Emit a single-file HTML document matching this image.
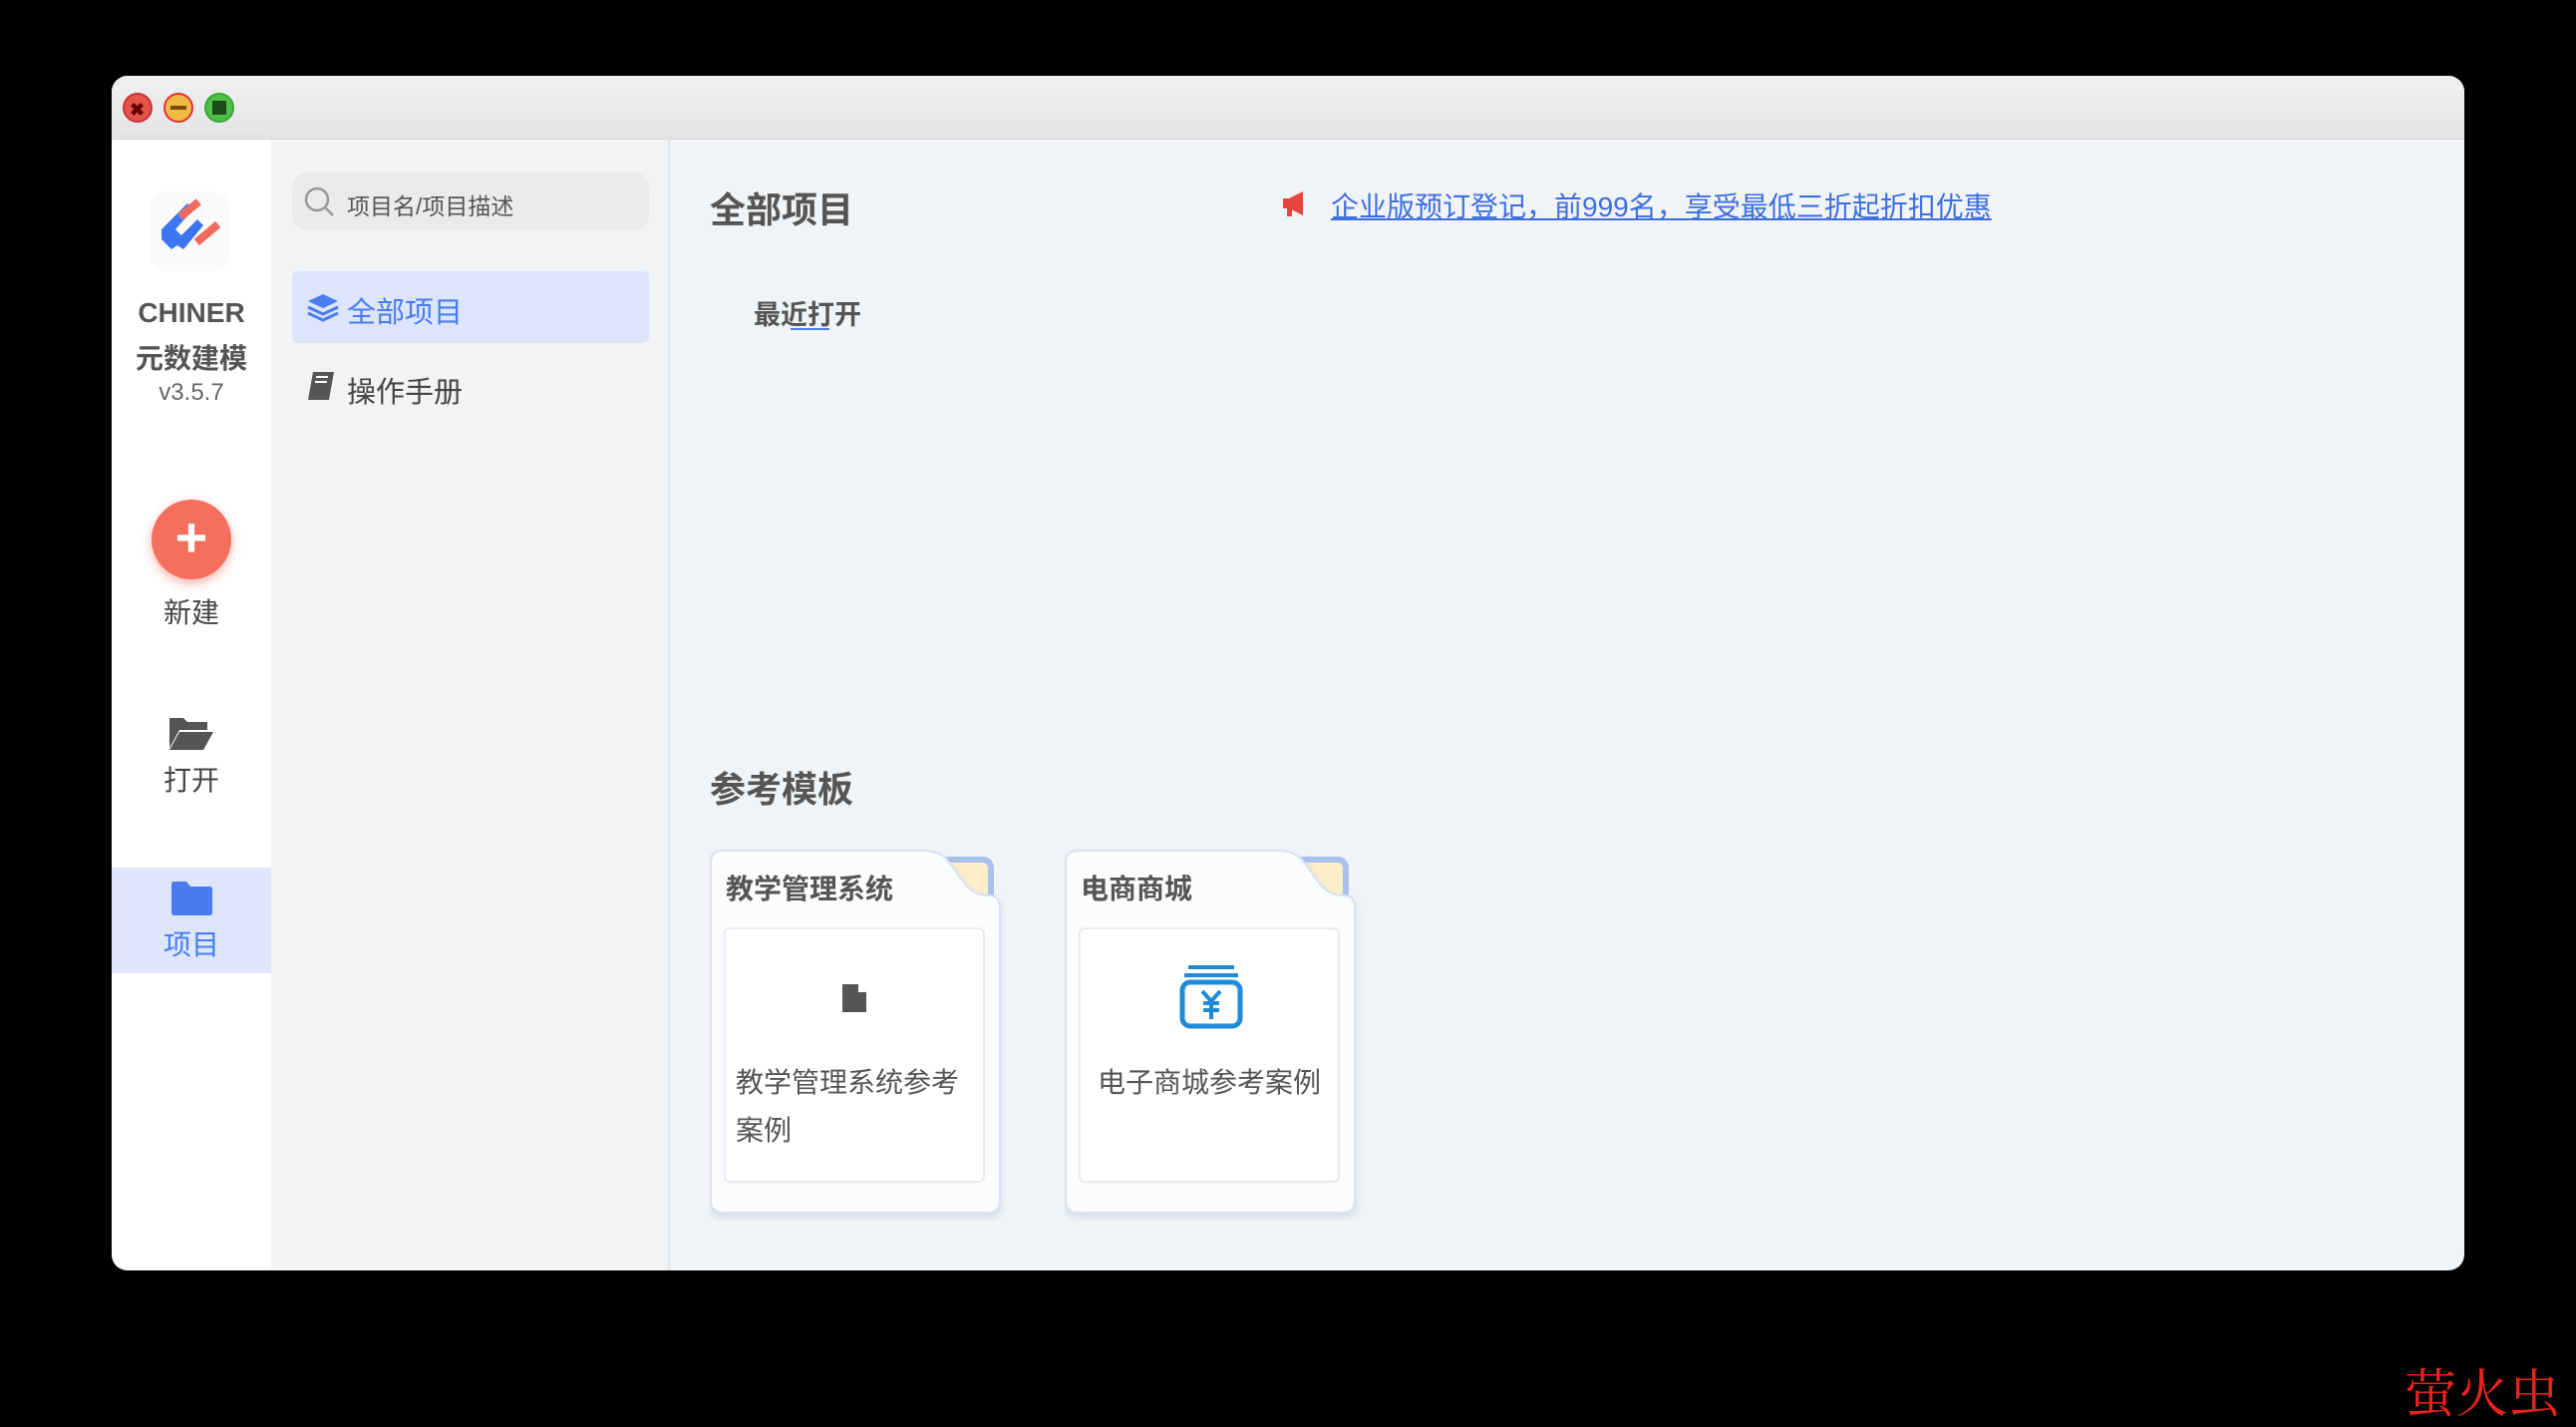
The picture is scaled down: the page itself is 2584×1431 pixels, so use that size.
<!DOCTYPE html>
<html><head><meta charset="utf-8"><style>
*{margin:0;padding:0;box-sizing:border-box}
body{width:2584px;height:1424px;background:#000;position:relative;overflow:hidden;font-family:"Liberation Sans","Noto Sans CJK SC",sans-serif;color:#555}
.a{position:absolute}
.win{left:112px;top:76px;width:2360px;height:1198px;background:#f1f4f6;border-radius:16px;overflow:hidden}
.tb{left:0;top:0;width:2360px;height:64px;background:linear-gradient(#f0f0f2,#e4e4e6);border-bottom:1px solid #d8d8d8}
.dot{top:17px;width:30px;height:30px;border-radius:50%}
.nav{left:0;top:64px;width:160px;height:1134px;background:#fff;box-shadow:4px 0 10px rgba(0,0,0,.04)}
.side{left:160px;top:64px;width:400px;height:1134px;background:#f1f3f5;border-right:2px solid #e2e5e8}
.ctr{text-align:center;width:160px;left:0}
.inner{left:14px;top:78px;width:262px;height:256px;background:#fff;border:2px solid #e8ecf2;border-radius:6px}
</style></head><body>
<div class="a win">
 <div class="a tb"></div>
 <div class="a dot" style="left:11px;background:#e5534b;border:2px solid #c33"></div>
 <div class="a dot" style="left:52px;background:#f0b944;border:2px solid #d33"></div>
 <div class="a dot" style="left:93px;background:#4fbf48;border:2px solid #3a3"></div>
 <div class="a" style="left:18px;top:24px;font:bold 18px sans-serif;color:#600">✖</div>
 <div class="a" style="left:59px;top:30px;width:16px;height:4px;background:#7a4a00"></div>
 <div class="a" style="left:101px;top:25px;width:14px;height:14px;background:#1a4d1a"></div>
 <div class="a nav">
  <svg class="a" style="left:36px;top:50px" width="84" height="84" viewBox="0 0 84 84">
   <rect x="2" y="2" width="80" height="80" rx="16" fill="#fafafa"/>
   <path d="M14 40 L40 14 L46 20 L28 40 L34 46 L50 30 L56 36 L36 60 L30 56 L24 60 L14 50Z" fill="#3b76f0"/>
   <rect x="30" y="16" width="24" height="8" fill="#ee6b5e" transform="rotate(-40 42 20)"/>
   <rect x="46" y="40" width="28" height="8" fill="#ee6b5e" transform="rotate(-40 60 44)"/>
  </svg>
  <div class="a ctr" style="top:158px;font-size:28px;font-weight:bold;color:#555">CHINER</div>
  <div class="a ctr" style="top:198px;font-size:28px;font-weight:bold;color:#555">元数建模</div>
  <div class="a ctr" style="top:240px;font-size:24px;color:#666">v3.5.7</div>
  <div class="a" style="left:40px;top:361px;width:80px;height:80px;border-radius:50%;background:#f4705e;box-shadow:0 4px 10px rgba(240,110,90,.5);color:#fff;text-align:center;font:bold 56px/76px 'Liberation Sans'">+</div>
  <div class="a ctr" style="top:453px;font-size:28px;color:#444">新建</div>
  <svg class="a" style="left:56px;top:576px" width="48" height="38" viewBox="0 0 48 38"><path d="M2 4h14l4 4h20v8H12L2 34Z" fill="#555"/><path d="M12 18h34l-10 18H2Z" fill="#555"/></svg>
  <div class="a ctr" style="top:621px;font-size:28px;color:#444">打开</div>
  <div class="a" style="left:0;top:730px;width:160px;height:106px;background:#dde6fb"></div>
  <svg class="a" style="left:58px;top:743px" width="44" height="36" viewBox="0 0 44 36"><path d="M2 4q0-3 3-3h12l4 5h19q3 0 3 3v23q0 3-3 3H5q-3 0-3-3Z" fill="#4a7cf0"/></svg>
  <div class="a ctr" style="top:786px;font-size:28px;color:#4a7cf0">项目</div>
 </div>
 <div class="a side">
  <div class="a" style="left:21px;top:33px;width:358px;height:58px;background:#e9ebed;border-radius:14px"></div>
  <svg class="a" style="left:32px;top:46px" width="34" height="34"><circle cx="14" cy="14" r="11" fill="none" stroke="#999" stroke-width="2.5"/><path d="M22 22l8 8" stroke="#999" stroke-width="2.5"/></svg>
  <div class="a" style="left:76px;top:48px;font-size:23px;color:#555">项目名/项目描述</div>
  <div class="a" style="left:21px;top:132px;width:358px;height:72px;background:#dce5fb;border-radius:6px"></div>
  <svg class="a" style="left:36px;top:154px" width="32" height="30" viewBox="0 0 32 30"><path d="M16 1L31 8 16 15 1 8Z" fill="#4a7cf0"/><path d="M1 14l15 7 15-7M1 20l15 7 15-7" fill="none" stroke="#4a7cf0" stroke-width="3"/></svg>
  <div class="a" style="left:76px;top:150px;font-size:29px;color:#4a7cf0">全部项目</div>
  <svg class="a" style="left:36px;top:232px" width="28" height="30" viewBox="0 0 28 30"><path d="M6 1h21l-5 28H1Z" fill="#555"/><path d="M9 6h12M8 11h12" stroke="#fff" stroke-width="2"/></svg>
  <div class="a" style="left:76px;top:230px;font-size:29px;color:#444">操作手册</div>
 </div>
 <div class="a" style="left:600px;top:106px;font-size:36px;font-weight:bold;color:#555">全部项目</div>
 <svg class="a" style="left:1173px;top:114px" width="30" height="28" viewBox="0 0 30 28"><path d="M2 9h6l14-7v24L8 19H2Z" fill="#e8453c"/><rect x="6" y="18" width="5" height="9" fill="#e8453c"/></svg>
 <div class="a" style="left:1223px;top:110px;font-size:28px;color:#3e6fe0;text-decoration:underline">企业版预订登记，前999名，享受最低三折起折扣优惠</div>
 <div class="a" style="left:644px;top:218px;font-size:27px;font-weight:bold;color:#555">最近打开</div>
 <div class="a" style="left:681px;top:253px;width:39px;height:2px;background:#4a7cf0"></div>
 <div class="a" style="left:600px;top:687px;font-size:36px;font-weight:bold;color:#555">参考模板</div>

 <div class="a" style="left:600px;top:776px;width:300px;height:372px">
  <svg class="a" style="left:0;top:0" width="300" height="372" viewBox="0 0 300 372">
   <rect x="232" y="10" width="50" height="60" rx="8" fill="#fbeec8" stroke="#a9c1ec" stroke-width="6"/>
   <path d="M13,1 H216 C250,1 246,46 280,46 Q291,46 291,58 V352 Q291,364 279,364 H13 Q1,364 1,352 V13 Q1,1 13,1Z" fill="#fafcfe" stroke="#d6e2f3" stroke-width="2" style="filter:drop-shadow(0 4px 4px rgba(160,180,220,.35))"/>
  </svg>
  <div class="a" style="left:16px;top:18px;font-size:28px;font-weight:bold;color:#555">教学管理系统</div>
  <div class="a inner">
   <svg class="a" style="left:116px;top:54px" width="26" height="30" viewBox="0 0 26 30"><path d="M1 1h16l8 8v20H1Z" fill="#555"/><path d="M17 1v8h8" fill="#fff"/></svg>
   <div class="a" style="left:10px;top:130px;width:245px;font-size:28px;line-height:48px;color:#555">教学管理系统参考案例</div>
  </div>
 </div>
 <div class="a" style="left:956px;top:776px;width:300px;height:372px">
  <svg class="a" style="left:0;top:0" width="300" height="372" viewBox="0 0 300 372">
   <rect x="232" y="10" width="50" height="60" rx="8" fill="#fbeec8" stroke="#a9c1ec" stroke-width="6"/>
   <path d="M13,1 H216 C250,1 246,46 280,46 Q291,46 291,58 V352 Q291,364 279,364 H13 Q1,364 1,352 V13 Q1,1 13,1Z" fill="#fafcfe" stroke="#d6e2f3" stroke-width="2" style="filter:drop-shadow(0 4px 4px rgba(160,180,220,.35))"/>
  </svg>
  <div class="a" style="left:16px;top:18px;font-size:28px;font-weight:bold;color:#555">电商商城</div>
  <div class="a inner">
   <svg class="a" style="left:98px;top:36px" width="66" height="64" viewBox="0 0 66 64"><rect x="10" y="0" width="46" height="4" fill="#1f8ad8"/><rect x="6" y="8" width="54" height="4" fill="#1f8ad8"/><rect x="4" y="17" width="58" height="44" rx="8" fill="none" stroke="#1f8ad8" stroke-width="5"/><path d="M24 26l9 10 9-10M33 36v18M25 38h16M25 45h16" stroke="#1f8ad8" stroke-width="4" fill="none"/></svg>
   <div class="a" style="left:0;top:130px;width:258px;text-align:center;font-size:28px;line-height:48px;color:#555">电子商城参考案例</div>
  </div>
 </div>
</div>
<div class="a" style="left:2412px;top:1356px;font-family:'Liberation Serif','Noto Serif CJK SC',serif;font-size:52px;color:#e8231c">萤火虫</div>
</body></html>
